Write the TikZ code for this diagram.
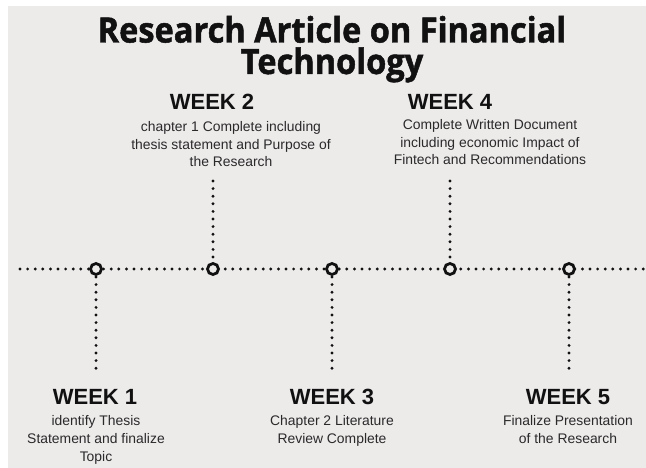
\documentclass[tikz,border=0pt]{standalone}
\usepackage{fontspec}
\setmainfont{Liberation Sans}
\newfontfamily\titlefont[BoldFeatures={FakeBold=1.4,FakeStretch=0.93}]{Open Sans}
\definecolor{paper}{HTML}{EDEAEA}
\definecolor{ink}{HTML}{111111}
\definecolor{bodyink}{HTML}{2A2A2A}
\begin{document}
\begin{tikzpicture}[x=1pt,y=-1pt,
  dotline/.style={line width=3.2pt, line cap=round, dash pattern=on 0pt off 7.6pt, draw=ink},
  milestone/.style={circle, draw=ink, line width=2.8pt, fill=paper, minimum size=11pt, inner sep=0pt},
  weekhead/.style={font=\fontsize{22}{24}\selectfont\bfseries, text=ink, inner sep=0pt, anchor=base},
  weektext/.style={font=\fontsize{13.9}{17.8}\selectfont, text=bodyink, align=center, inner sep=0pt, anchor=base},
  titletext/.style={font=\titlefont\fontsize{35}{31.5}\selectfont\bfseries, text=ink, align=center, inner sep=0pt, anchor=base}]
\useasboundingbox (0,0) rectangle (646,468);
\fill[white] (0,0) rectangle (646,468);
\fill[paper] (8,6) rectangle (646,468);

% title (anchored on the baseline of its last line)
\node[titletext] (title) at (332,74) {Research Article on Financial\\Technology};

% timeline axis and milestones
\coordinate (axisL) at (20,269);
\coordinate (axisR) at (646,269);
\draw[dotline] (axisL) -- (axisR);

\coordinate (s2) at (213,181);
\coordinate (s4) at (450,181);
\coordinate (e1) at (96,375);
\coordinate (e3) at (332,375);
\coordinate (e5) at (569,375);

\draw[dotline] (s2) -- (213,262);
\draw[dotline] (s4) -- (450,262);
\draw[dotline] (96,277) -- (e1);
\draw[dotline] (332,277) -- (e3);
\draw[dotline] (569,277) -- (e5);

\node[milestone] (m1) at (96,269) {};
\node[milestone] (m2) at (213,269) {};
\node[milestone] (m3) at (332,269) {};
\node[milestone] (m4) at (450,269) {};
\node[milestone] (m5) at (569,269) {};

% upper labels (text blocks anchored on their last baseline)
\node[weekhead] (h2) at (212,110) {WEEK 2};
\node[weektext] (t2) at (231,167) {chapter 1 Complete including\\thesis statement and Purpose of\\the Research};
\node[weekhead] (h4) at (450,110) {WEEK 4};
\node[weektext] (t4) at (490,165) {Complete Written Document\\including economic Impact of\\Fintech and Recommendations};

% lower labels
\node[weekhead] (h1) at (95,404) {WEEK 1};
\node[weektext] (t1) at (96,461) {identify Thesis\\Statement and finalize\\Topic};
\node[weekhead] (h3) at (332,404) {WEEK 3};
\node[weektext] (t3) at (332,443) {Chapter 2 Literature\\Review Complete};
\node[weekhead] (h5) at (568,404) {WEEK 5};
\node[weektext] (t5) at (568,443) {Finalize Presentation\\of the Research};
\end{tikzpicture}
\end{document}
